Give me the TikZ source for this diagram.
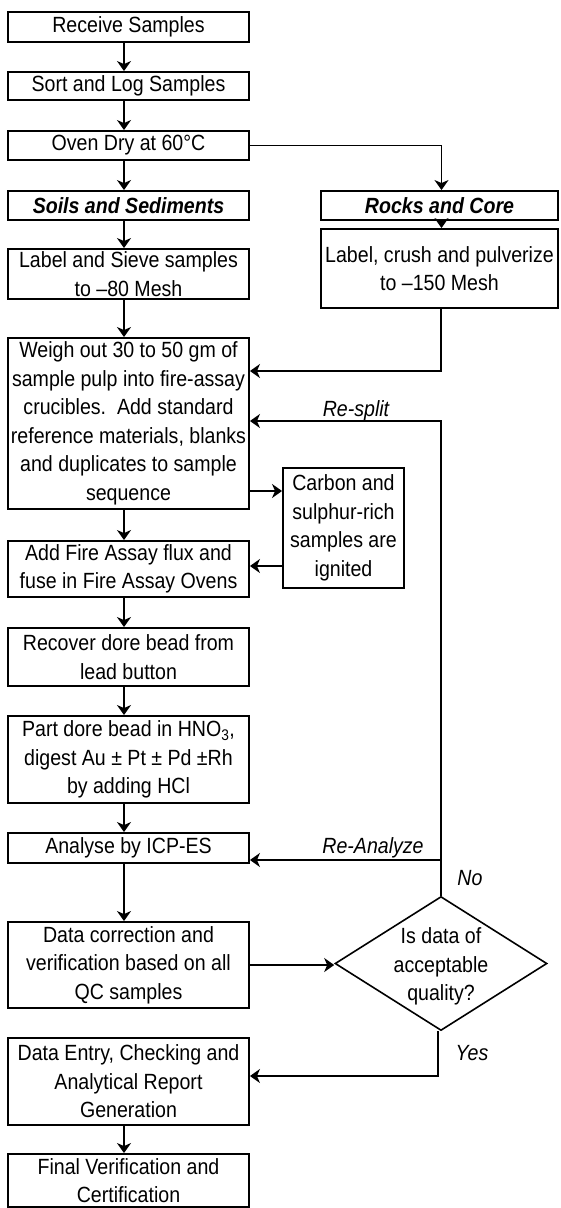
\documentclass[tikz,border=0pt]{standalone}
\usepackage{fontspec}
\setmainfont{Liberation Sans}[FakeStretch=0.89]
\usetikzlibrary{arrows.meta,shapes.geometric}
\tikzset{
  box/.style={draw, line width=1.9pt, inner sep=0pt, align=center, minimum width=241pt,
    font=\fontsize{22}{28.5}\selectfont},
  arr/.style={line width=1.6pt, -{Stealth[length=10pt,width=14pt,inset=3pt]}},
  lbl/.style={inner sep=0pt, font=\fontsize{22}{28.5}\selectfont\itshape},
  heading/.style={font=\fontsize{22}{28.5}\selectfont\bfseries\itshape}
}
\begin{document}
\begin{tikzpicture}[x=1pt,y=-1pt]
\useasboundingbox (0,0) rectangle (560,1208);
\node[box, minimum height=30pt] (n1) at (128.5,27) {Receive Samples};
\node[box, minimum height=28pt] (n2) at (128.5,86) {Sort and Log Samples};
\node[box, minimum height=29pt] (n3) at (128.5,145.5) {Oven Dry at 60°C};
\node[box, heading, minimum height=29pt] (n4) at (128.5,205.5) {Soils and Sediments};
\node[box, heading, minimum height=29pt, minimum width=237pt] (n5) at (439.5,205.5) {Rocks and Core};
\node[box, minimum height=50pt] (n6) at (128.5,274) {Label and Sieve samples\\to –80 Mesh};
\node[box, minimum height=79pt, minimum width=237pt] (n7) at (439.5,268.5) {Label, crush and pulverize\\to –150 Mesh};
\node[box, minimum height=171pt] (n8) at (128.5,423.5) {Weigh out 30 to 50 gm of\\sample pulp into fire-assay\\crucibles.\ \ Add standard\\reference materials, blanks\\and duplicates to sample\\sequence};
\node[box, minimum height=56pt] (n9) at (128.5,569) {Add Fire Assay flux and\\fuse in Fire Assay Ovens};
\node[box, minimum height=120pt, minimum width=121pt] (n10) at (343.5,528) {Carbon and\\sulphur-rich\\samples are\\ignited};
\node[box, minimum height=58pt] (n11) at (128.5,657) {Recover dore bead from\\lead button};
\node[box, minimum height=87pt] (n12) at (128.5,759.5) {Part dore bead in HNO\textsubscript{3},\\digest Au ± Pt ± Pd ±Rh\\by adding HCl};
\node[box, minimum height=30pt] (n13) at (128.5,848) {Analyse by ICP-ES};
\node[box, minimum height=86pt] (n14) at (128.5,965) {Data correction and\\verification based on all\\QC samples};
\node[draw, diamond, line width=1.6pt, inner sep=0pt, minimum width=212pt, minimum height=134pt] (dia) at (441,963.5) {};
\node[inner sep=0pt, align=center, font=\fontsize{22}{28.5}\selectfont] (diatext) at (441,966.5) {Is data of\\acceptable\\quality?};
\node[box, minimum height=87pt] (n16) at (128.5,1081.5) {Data Entry, Checking and\\Analytical Report\\Generation};
\node[box, minimum height=53pt] (n17) at (128.5,1180.5) {Final Verification and\\Certification};

% main vertical flow
\foreach \a/\b in {n1/n2,n2/n3,n3/n4,n4/n6,n6/n8,n8/n9,n9/n11,n11/n12,n12/n13,n13/n14,n16/n17}
  \draw[arr] ([xshift=-4.5pt]\a.south) -- ([xshift=-4.5pt]\b.north);

% right branch
\draw[arr] (n3.east) -| ([xshift=2pt]n5.north);
\draw[arr] ([xshift=2pt]n5.south) -- ([xshift=2pt]n7.north);
\draw[arr] ([xshift=1.5pt]n7.south) |- ([yshift=52.5pt]n8.east);

% carbon box
\draw[arr] ([yshift=-67.5pt]n8.east) -- ([yshift=-67.5pt]n8.east -| n10.west);
\draw[arr] ([yshift=-38pt]n10.west) -- ([yshift=-38pt]n10.west -| n9.east);

% feedback loops
\coordinate (rs) at (441,421);
\coordinate (ra) at (441,860);
\draw[arr] (dia.north) -- (rs) -- (rs -| n8.east);
\draw[arr] (ra) -- (ra -| n13.east);
\node[lbl] (lresplit) at (356,411) {Re-split};
\node[lbl] (lreanalyze) at (373,848) {Re-Analyze};
\node[lbl] (lno) at (470,878) {No};

% decision
\draw[arr] (n14.east) -- (n14.east -| dia.west);
\draw[arr] ([xshift=-3pt]dia.south) |- ([yshift=5.5pt]n16.east);
\node[lbl] (lyes) at (472,1053) {Yes};
\end{tikzpicture}
\end{document}
